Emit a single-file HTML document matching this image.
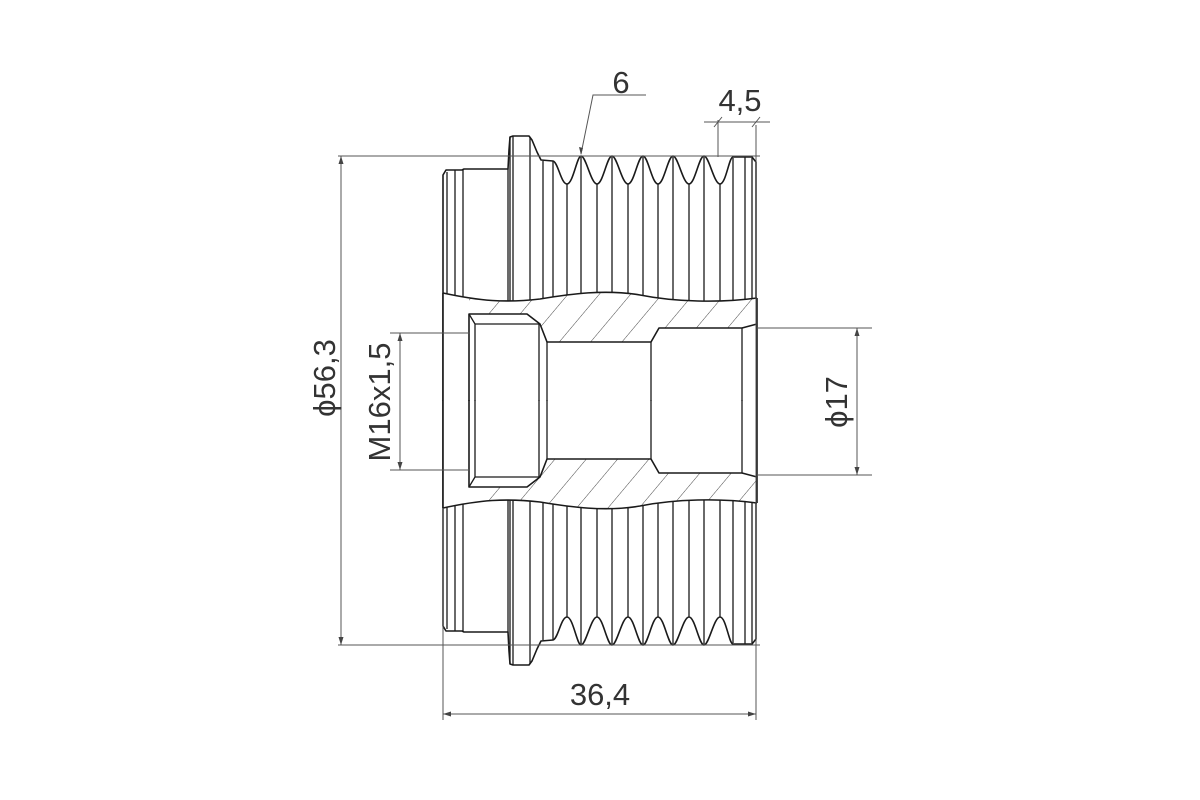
<!DOCTYPE html>
<html><head><meta charset="utf-8"><style>
html,body{margin:0;padding:0;background:#fff;}
svg{display:block}
text{font-family:"Liberation Sans",Arial,sans-serif;fill:#333;}
</style></head><body>
<svg width="1200" height="800" viewBox="0 0 1200 800" xmlns="http://www.w3.org/2000/svg">
<defs>
<pattern id="h" patternUnits="userSpaceOnUse" width="24" height="24" patternTransform="rotate(40)">
<line x1="0" y1="0" x2="0" y2="24" stroke="#333" stroke-width="0.9"/>
</pattern>
<g id="top" fill="none" stroke="#1a1a1a" stroke-width="1.6" stroke-linejoin="round">
<path d="M443,401 L443,175 L446,170 L462,170 L464,169 L508,169 L509,150 L510,137 L513,136 L529,136 L532,140 L537,152 L541,160 L553,161
C558,162 561,184 567,184 C573,184 577,156 581,156 C586,156 591,184 597,184 C603,184 607,156 612,156 C617,156 622,184 628,184 C634,184 638,156 643,156 C648,156 652,184 658,184 C664,184 668,156 673,156 C678,156 683,184 689,184 C695,184 699,156 704,156 C709,156 714,184 720,184 C726,184 729,157 733,157 L752,157 L756,162 L756,401"/>
<g stroke-width="1.3">
<path d="M447,172V401 M455,170V401 M463,170V401 M508,169V401 M510,137V401 M513,136V401 M530,137V401 M543,161V401 M553,161V401
M567,184V401 M581,157V401 M597,184V401 M612,157V401 M628,184V401 M643,157V401 M658,184V401 M673,157V401 M689,184V401 M704,157V401 M720,184V401 M733,158V401 M745,157V401 M752,158V401"/>
</g>
</g>
<g id="topbore" fill="none" stroke="#1a1a1a" stroke-width="1.6" stroke-linejoin="round">
<path d="M443,293 C480,301 505,303 540,299 C570,294 605,289 640,295 C675,302 720,303 757,298" />
<path d="M469,401 L469,314 L527,314 L540,324 L547,342 L651,342 L659,328 L742,328 L757,324"/>
<path d="M469,314 L475,324 L539,324 M475,324V401 M539,324V401 M547,342V401 M651,342V401 M742,328V401" stroke-width="1.3"/>
</g>
</defs>

<use href="#top"/>
<use href="#top" transform="matrix(1,0,0,-1,0,801)"/>

<path d="M443,293 C480,301 505,303 540,299 C570,294 605,289 640,295 C675,302 720,303 757,298 L757,503 C720,498 675,499 640,506 C605,512 570,507 540,502 C505,498 480,500 443,508 Z" fill="#fff"/>

<path d="M469,298 C490,302 510,302 540,299 C570,294 605,289 640,295 C675,302 720,303 757,298 L757,324 L742,328 L659,328 L651,342 L547,342 L540,324 L527,314 L469,314 Z" fill="url(#h)"/>
<path d="M469,503 C490,499 510,499 540,502 C570,507 605,512 640,506 C675,499 720,498 757,503 L757,477 L742,473 L659,473 L651,459 L547,459 L540,477 L527,487 L469,487 Z" fill="url(#h)"/>

<use href="#topbore"/>
<use href="#topbore" transform="matrix(1,0,0,-1,0,801)"/>
<path d="M443,293 V508" stroke="#1a1a1a" stroke-width="1.6"/>
<path d="M757,298 V503" stroke="#1a1a1a" stroke-width="1.6"/>

<g stroke="#555" stroke-width="1" fill="none">
<path d="M338,156 H760 M338,645 H760 M341,156 V645"/>
<path d="M390,333 H470 M390,470 H470 M400,333 V470"/>
<path d="M757,328 H872 M757,475 H872 M857,328 V475"/>
<path d="M443,508 V720 M756,125 V720 M443,714 H756"/>
<path d="M718,120 V157 M704,122 H770 M714,127 L722,117 M752,127 L760,117"/>
<path d="M581,154 L593,95 H646"/>
</g>
<g fill="#444">
<path d="M341,156 l-2.5,8 h5z M341,645 l-2.5,-8 h5z"/>
<path d="M400,333 l-2.5,8 h5z M400,470 l-2.5,-8 h5z"/>
<path d="M857,328 l-2.5,8 h5z M857,475 l-2.5,-8 h5z"/>
<path d="M443,714 l8,-2.5 v5z M756,714 l-8,-2.5 v5z"/>
<path d="M581,155 l-2,-8 l4,1z"/>
</g>
<text x="600" y="705" font-size="31" text-anchor="middle">36,4</text>
<text x="621" y="93" font-size="31" text-anchor="middle">6</text>
<text x="740" y="111" font-size="31" text-anchor="middle">4,5</text>
<text transform="translate(335,378) rotate(-90)" font-size="31" text-anchor="middle">ϕ56,3</text>
<text transform="translate(390,402) rotate(-90)" font-size="31" text-anchor="middle">M16x1,5</text>
<text transform="translate(847,402) rotate(-90)" font-size="31" text-anchor="middle">ϕ17</text>
</svg>
</body></html>
